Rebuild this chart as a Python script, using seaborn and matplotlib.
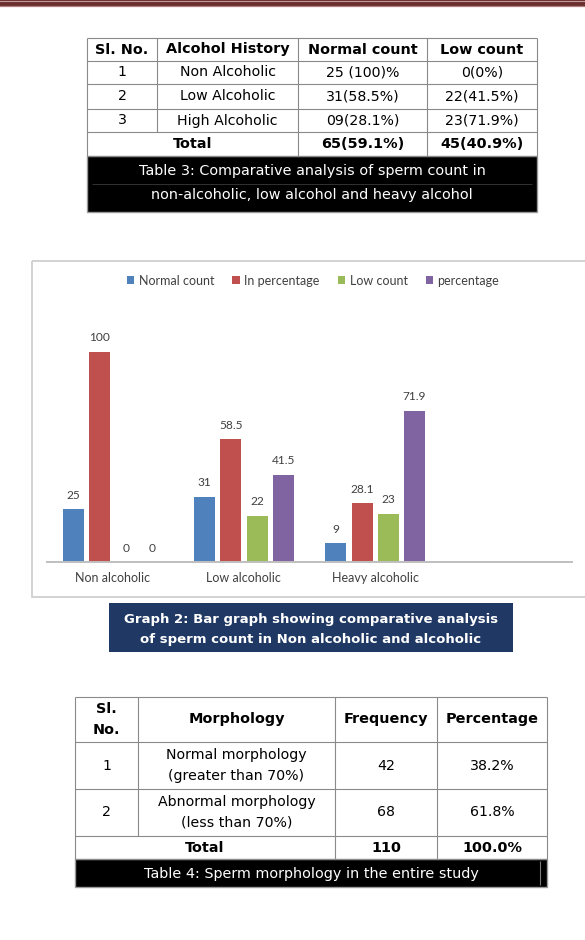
import matplotlib
matplotlib.use("Agg")
import matplotlib.pyplot as plt
import seaborn as sns
import pandas as pd
from matplotlib.patches import Rectangle

# ---------------- data ----------------
groups = ["Non alcoholic", "Low alcoholic", "Heavy alcoholic"]
series = ["Normal count", "In percentage", "Low count", "percentage"]
normal_count = [25, 31, 9]
in_percentage = [100, 58.5, 28.1]
low_count = [0, 22, 23]
percentage = [0, 41.5, 71.9]
bar_colors = ["#4F81BD", "#C0504D", "#9BBB59", "#8064A2"]

t3_header = ["Sl. No.", "Alcohol History", "Normal count", "Low count"]
t3_rows = [["1", "Non Alcoholic", "25 (100)%", "0(0%)"],
           ["2", "Low Alcoholic", "31(58.5%)", "22(41.5%)"],
           ["3", "High Alcoholic", "09(28.1%)", "23(71.9%)"]]
t3_total = ["Total", "65(59.1%)", "45(40.9%)"]
t3_caption = ["Table 3: Comparative analysis of sperm count in",
              "non-alcoholic, low alcohol and heavy alcohol"]

graph_caption = ["Graph 2: Bar graph showing comparative analysis",
                 "of sperm count in Non alcoholic and alcoholic"]

t4_header = ["Sl.\nNo.", "Morphology", "Frequency", "Percentage"]
t4_rows = [["1", "Normal morphology\n(greater than 70%)", "42", "38.2%"],
           ["2", "Abnormal morphology\n(less than 70%)", "68", "61.8%"]]
t4_total = ["Total", "110", "100.0%"]
t4_caption = "Table 4: Sperm morphology in the entire study"

# ---------------- figure ----------------
W, H = 585, 940
fig = plt.figure(figsize=(W / 100, H / 100), dpi=100)
fig.patch.set_facecolor("white")

page = fig.add_axes([0, 0, 1, 1])
page.set_xlim(0, W)
page.set_ylim(H, 0)
page.axis("off")

TFONT = "DejaVu Sans"
LINE = "#8a8a8a"
FS_H = 10.4
FS_B = 10.2
FS_CAP = 10.4

# top decorative bar
page.add_patch(Rectangle((0, 0), W, 6.5, facecolor="#6a2e2e", edgecolor="none"))
page.plot([0, W], [0.6, 0.6], color="#c49a9a", lw=0.8)
page.plot([0, W], [6.0, 6.0], color="#b08080", lw=0.9)


def hline(y, x0, x1, color=LINE, lw=0.8):
    page.plot([x0, x1], [y, y], color=color, lw=lw, solid_capstyle="butt")


def vline(x, y0, y1, color=LINE, lw=0.8):
    page.plot([x, x], [y0, y1], color=color, lw=lw, solid_capstyle="butt")


def draw_table(cols, rows_y, header, rows, total, fs_h, fs_b):
    x0, x1 = cols[0], cols[-1]
    for y in rows_y:
        hline(y, x0, x1)
    for i, x in enumerate(cols):
        if i == 1:
            vline(x, rows_y[0], rows_y[-2])
        else:
            vline(x, rows_y[0], rows_y[-1])
    yc = (rows_y[0] + rows_y[1]) / 2
    for j, txt in enumerate(header):
        xc = (cols[j] + cols[j + 1]) / 2
        page.text(xc, yc, txt, ha="center", va="center", fontsize=fs_h,
                  fontweight="bold", family=TFONT, color="black", linespacing=1.6)
    for r, row in enumerate(rows):
        yc = (rows_y[r + 1] + rows_y[r + 2]) / 2
        for j, txt in enumerate(row):
            xc = (cols[j] + cols[j + 1]) / 2
            page.text(xc, yc, txt, ha="center", va="center", fontsize=fs_b,
                      family=TFONT, color="black", linespacing=1.55)
    yc = (rows_y[-2] + rows_y[-1]) / 2
    spans = [(cols[0], cols[2]), (cols[2], cols[3]), (cols[3], cols[4])]
    for (a, b), txt in zip(spans, total):
        page.text((a + b) / 2, yc, txt, ha="center", va="center",
                  fontsize=fs_h, fontweight="bold", family=TFONT)


# ---------------- Table 3 ----------------
t3_cols = [87, 157, 298, 427, 537]
t3_rows_y = [38, 61, 84, 109, 132, 156]
draw_table(t3_cols, t3_rows_y, t3_header, t3_rows, t3_total, FS_H, FS_B)
page.add_patch(Rectangle((87, 156), 450, 56, facecolor="black",
                         edgecolor="#9a9a9a", lw=1.0))
hline(184, 92, 532, color="#3a3a3a", lw=0.6)
page.text(312, 171.5, t3_caption[0], ha="center", va="center", fontsize=FS_CAP,
          color="white", family=TFONT)
page.text(312, 194.5, t3_caption[1], ha="center", va="center", fontsize=FS_CAP,
          color="white", family=TFONT)

# ---------------- Chart frame ----------------
page.add_patch(Rectangle((32, 261), 570, 336, facecolor="none",
                         edgecolor="#cfcfcf", lw=1.3))

# ---------------- Bar chart ----------------
df = pd.DataFrame({
    "group": groups * 4,
    "series": sum([[s] * 3 for s in series], []),
    "value": normal_count + in_percentage + low_count + percentage,
})

ax = fig.add_axes([47 / W, 1 - 562 / H, (572 - 47) / W, 262 / H])
ax.patch.set_alpha(0)
sns.barplot(data=df, x="group", y="value", hue="series", hue_order=series,
            order=groups, palette=bar_colors, saturation=1, width=0.8, gap=0.2,
            ax=ax, legend=False)
ax.set_xlim(-0.5, 3.5)
ax.set_ylim(0, 124.6)
for s in ["top", "right", "left"]:
    ax.spines[s].set_visible(False)
ax.spines["bottom"].set_color("#bfbfbf")
ax.spines["bottom"].set_linewidth(1.4)
ax.set_yticks([])
ax.set_xlabel("")
ax.set_ylabel("")
ax.tick_params(axis="x", length=0, pad=7.5, labelsize=9, labelcolor="#404040")
for lab in ax.get_xticklabels():
    lab.set_family("Lato")

for cont in ax.containers:
    vals = [b.get_height() for b in cont]
    ax.bar_label(cont, labels=[f"{v:g}" for v in vals], padding=6,
                 fontsize=8.6, color="#404040", family="Lato")

handles = [Rectangle((0, 0), 1, 1, facecolor=c, edgecolor="none") for c in bar_colors]
fig.legend(handles, series, loc="center", bbox_to_anchor=(313 / W, 1 - 280.7 / H),
           ncol=4, frameon=False, prop={"family": "Lato", "size": 9},
           handlelength=0.6, handleheight=0.6, handletextpad=0.35,
           columnspacing=1.45, labelcolor="#404040")

# ---------------- Graph caption ----------------
page.add_patch(Rectangle((109, 603), 404, 49, facecolor="#1F3864", edgecolor="none"))
page.text(311, 619.5, graph_caption[0], ha="center", va="center", fontsize=9.5,
          fontweight="bold", color="white", family=TFONT)
page.text(311, 639, graph_caption[1], ha="center", va="center", fontsize=9.5,
          fontweight="bold", color="white", family=TFONT)

# ---------------- Table 4 ----------------
t4_cols = [75, 138, 335, 437, 547]
t4_rows_y = [697, 742, 789, 836, 859]
draw_table(t4_cols, t4_rows_y, t4_header, t4_rows, t4_total, FS_H, FS_B)
page.add_patch(Rectangle((75, 859), 472, 28, facecolor="black",
                         edgecolor="#9a9a9a", lw=1.0))
vline(540, 861, 885, color="#7a7a7a", lw=0.8)
page.text(311, 874, t4_caption, ha="center", va="center", fontsize=FS_CAP,
          color="white", family=TFONT)

fig.savefig("out.png", dpi=100, facecolor="white")
